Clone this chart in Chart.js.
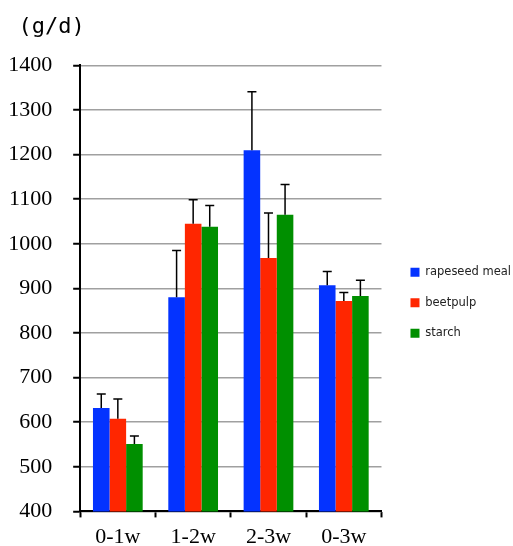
<!DOCTYPE html>
<html>
<head>
<meta charset="utf-8">
<script src="https://cdn.jsdelivr.net/npm/chart.js@4.4.1/dist/chart.umd.min.js"></script>
<style>
  html, body { margin: 0; padding: 0; background: #fff; }
  #wrap { width: 513px; height: 546px; }
</style>
</head>
<body>
<div id="wrap"><canvas id="chart"></canvas></div>
<script>
const periods = ['0-1w', '1-2w', '2-3w', '0-3w'];
const seriesNames = ['rapeseed meal', 'beetpulp', 'starch'];
const rapeseedMeal = [632, 880, 1210, 907];
const beetpulp = [608, 1045, 968, 872];
const starch = [551, 1038, 1065, 883];
// upper error (SD) for each bar
const rapeseedMealSd = [31, 105, 131, 31];
const beetpulpSd = [44, 54, 101, 19];
const starchSd = [18, 48, 68, 35];
const yTicks = [400, 500, 600, 700, 800, 900, 1000, 1100, 1200, 1300, 1400];

const colors = ['#0433FF', '#FF2600', '#008F00'];
const values = [rapeseedMeal, beetpulp, starch];
const sds = [rapeseedMealSd, beetpulpSd, starchSd];

const errorBars = {
    id: 'errorBars',
    afterDatasetsDraw(chart) {
        const ctx = chart.ctx;
        const yScale = chart.scales.y;
        ctx.save();
        ctx.strokeStyle = '#000';
        ctx.lineWidth = 1.5;
        chart.data.datasets.forEach((ds, di) => {
            const meta = chart.getDatasetMeta(di);
            meta.data.forEach((bar, i) => {
                const top = yScale.getPixelForValue(ds.data[i] + ds.sd[i]);
                ctx.beginPath();
                ctx.moveTo(bar.x, bar.y);
                ctx.lineTo(bar.x, top);
                ctx.moveTo(bar.x - 4.5, top);
                ctx.lineTo(bar.x + 4.5, top);
                ctx.stroke();
            });
        });
        ctx.restore();
    }
};

new Chart(document.getElementById('chart'), {
    type: 'bar',
    data: {
        labels: periods,
        datasets: seriesNames.map((name, i) => ({
            label: name,
            data: values[i],
            sd: sds[i],
            backgroundColor: colors[i],
            borderWidth: 0,
            categoryPercentage: 0.66,
            barPercentage: 1.0
        }))
    },
    options: {
        responsive: true,
        maintainAspectRatio: false,
        animation: false,
        layout: {
            padding: { left: -8, right: -8, top: 0, bottom: -11 }
        },
        scales: {
            x: {
                grid: {
                    drawOnChartArea: false,
                    tickColor: '#000',
                    tickLength: 6,
                    tickWidth: 2
                },
                border: { color: '#000', width: 2 },
                ticks: {
                    color: '#000',
                    padding: 11,
                    font: { family: '"Liberation Serif", "Times New Roman", serif', size: 22, lineHeight: 0.8 }
                }
            },
            y: {
                min: 400,
                max: 1400,
                afterBuildTicks: function(scale) {
                    scale.ticks = yTicks.map(v => ({ value: v }));
                },
                grid: {
                    color: '#a0a0a0',
                    lineWidth: 1.5,
                    tickColor: '#000',
                    tickLength: 7,
                    tickWidth: 2
                },
                border: { color: '#000', width: 2 },
                ticks: {
                    color: '#000',
                    padding: 21,
                    callback: function(value) {
                        return String(value);
                    },
                    font: { family: '"Liberation Serif", "Times New Roman", serif', size: 22 }
                }
            },
            y2: {
                position: 'right',
                display: true,
                grid: { display: false },
                border: { display: false },
                ticks: { display: false },
                afterFit: function(scale) {
                    scale.width = 10;
                }
            }
        },
        plugins: {
            title: {
                display: true,
                text: '  (g/d)',
                align: 'start',
                color: '#000',
                font: { family: '"DejaVu Sans Mono", monospace', size: 22, weight: 'normal' },
                padding: { top: 14, bottom: 25 }
            },
            legend: {
                position: 'right',
                maxWidth: 140,
                title: {
                    display: true,
                    text: ' ',
                    font: { size: 12 },
                    padding: { top: 17, bottom: 17 }
                },
                labels: {
                    boxWidth: 9,
                    boxHeight: 9,
                    padding: 19,
                    color: '#222',
                    font: { family: '"DejaVu Sans", sans-serif', size: 11.5 }
                }
            },
            tooltip: { enabled: false }
        }
    },
    plugins: [errorBars]
});
</script>
</body>
</html>
